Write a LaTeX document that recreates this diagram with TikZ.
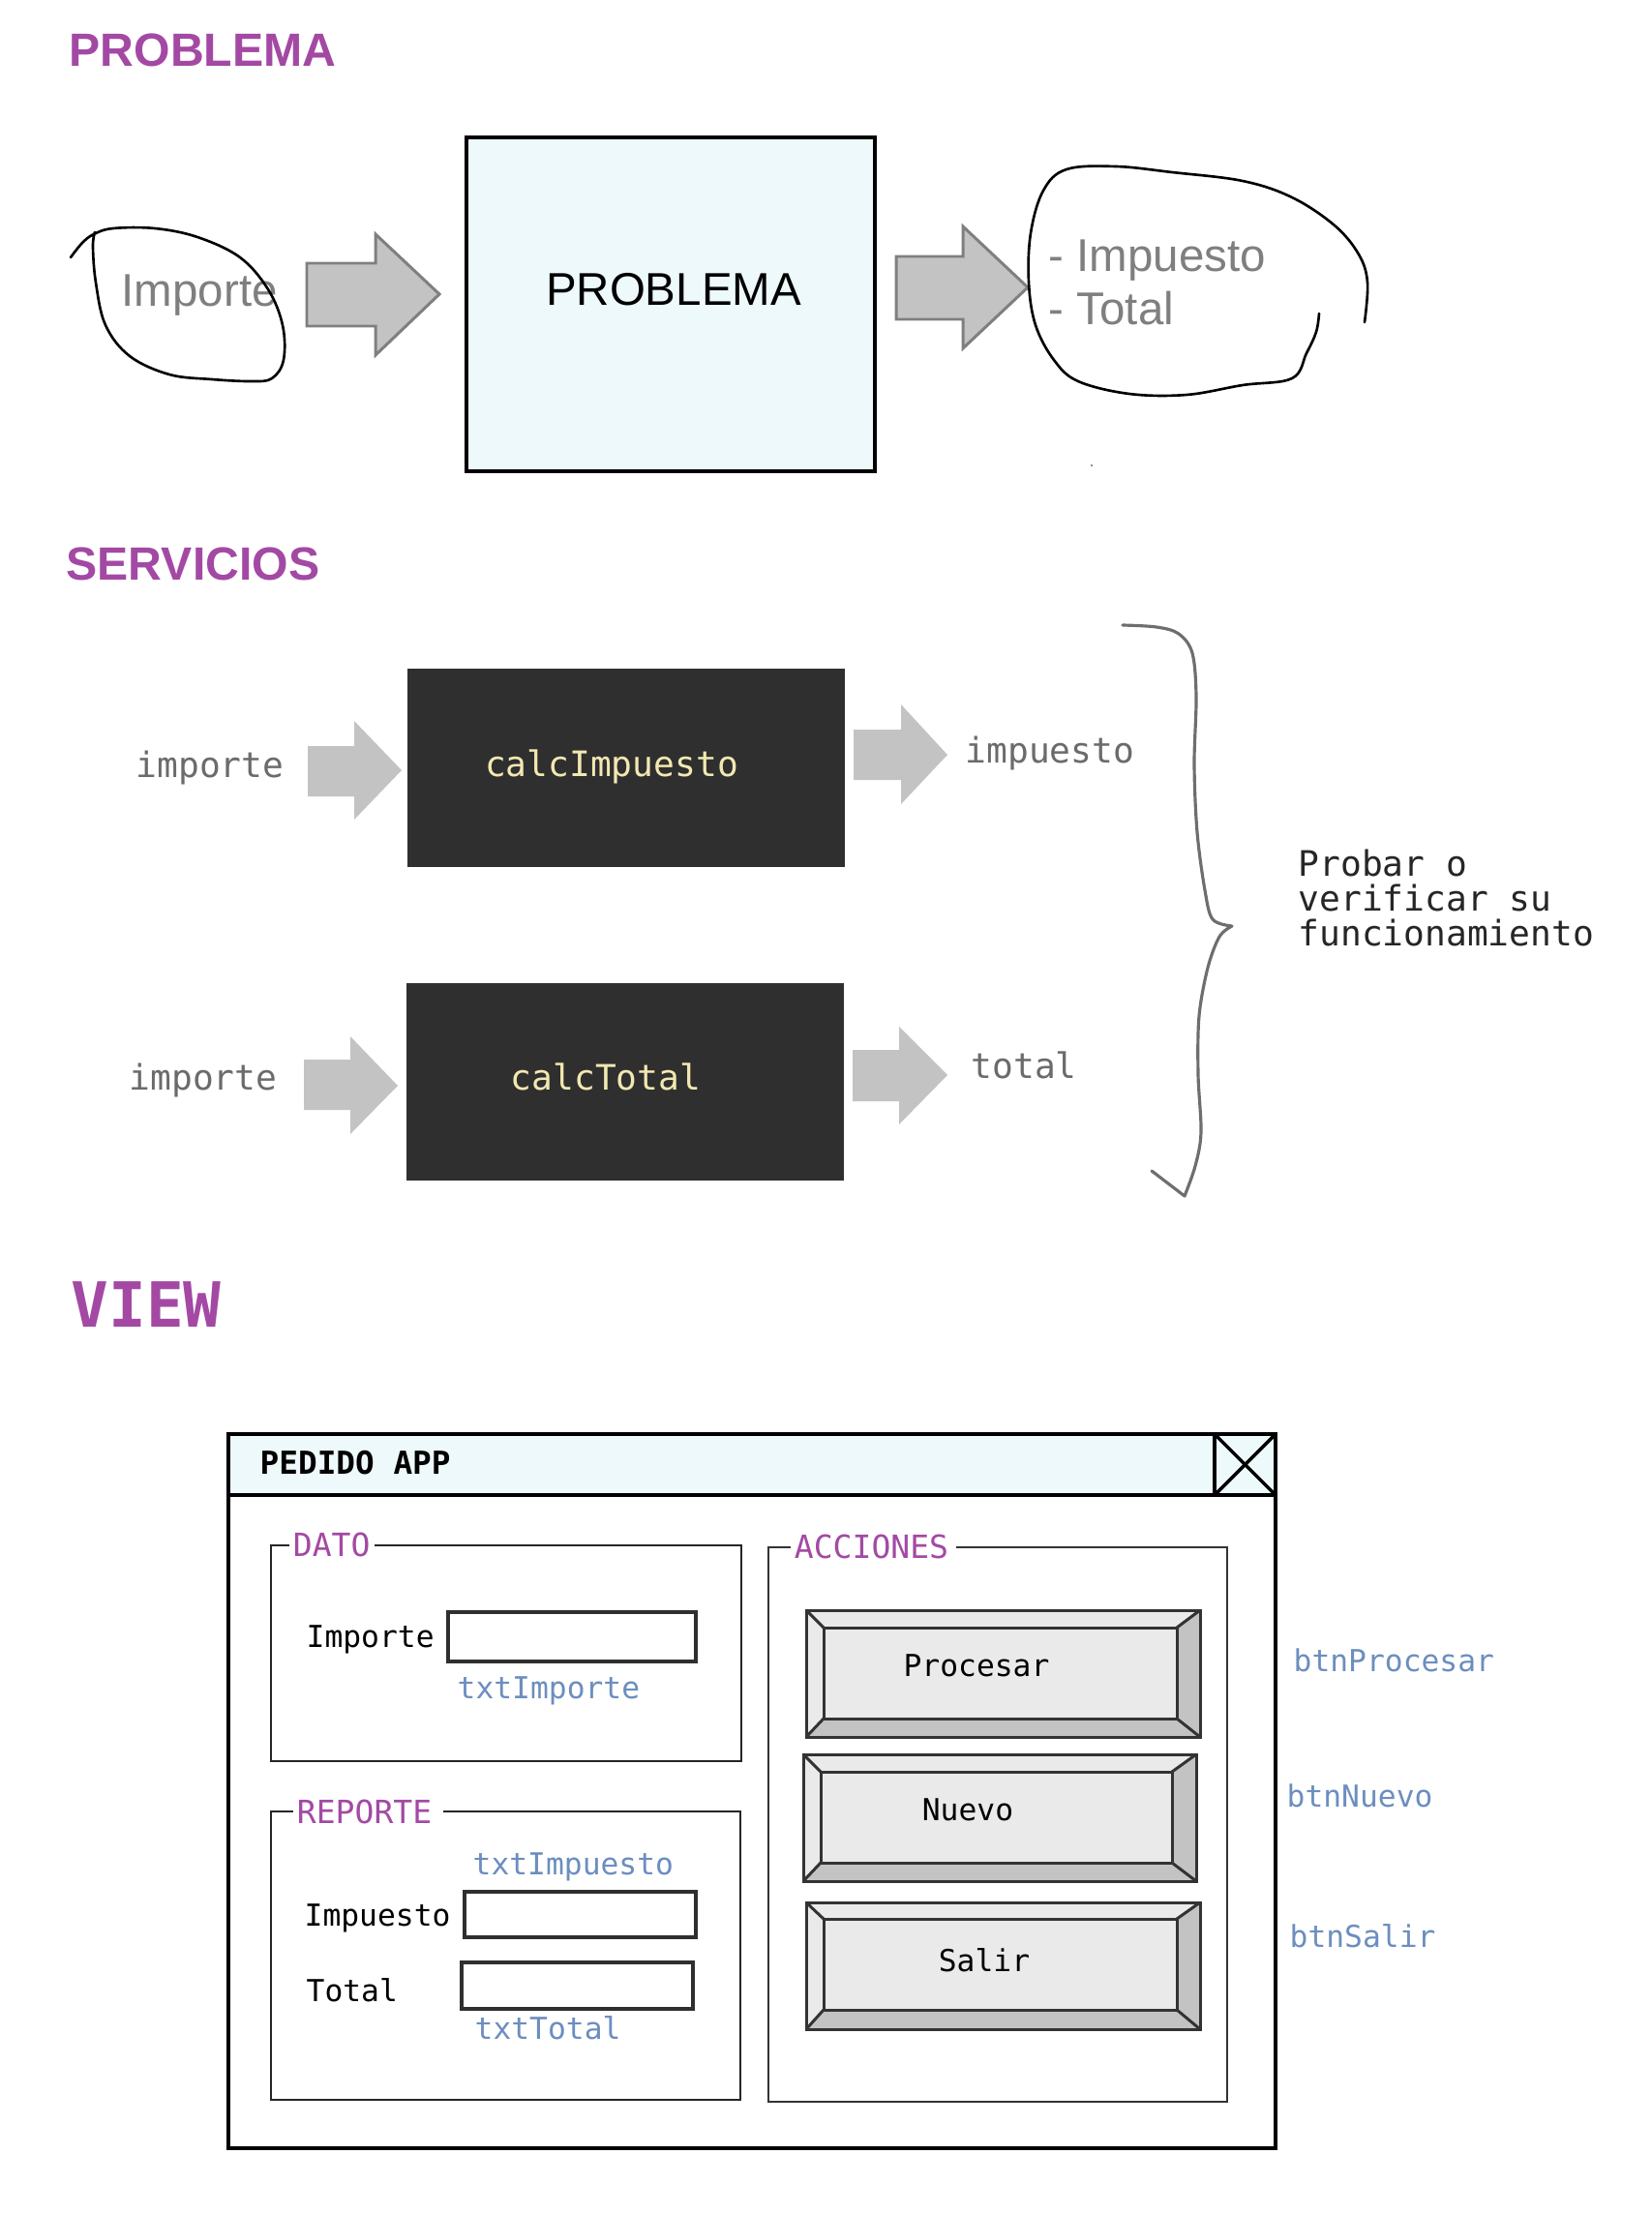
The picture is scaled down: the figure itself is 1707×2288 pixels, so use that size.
\documentclass[tikz,border=0pt]{standalone}
\usepackage{fontspec}
\setmainfont{Liberation Sans}
\newfontfamily\monofont{DejaVu Sans Mono}
\definecolor{purp}{HTML}{A349A4}
\definecolor{lcyan}{HTML}{EEF9FB}
\definecolor{agray}{HTML}{C3C3C3}
\definecolor{adark}{HTML}{7F7F7F}
\definecolor{darkbox}{HTML}{2F2F2F}
\definecolor{ylw}{HTML}{F2E8B2}
\definecolor{mgray}{HTML}{6B6B6B}
\definecolor{lblue}{HTML}{6C8EBF}
\definecolor{blight}{HTML}{EAEAEA}
\definecolor{bline}{HTML}{333333}
\definecolor{brace}{HTML}{6E6E6E}
\newcommand\bevelbtn[8]{%
  \fill[blight] (#1,#2) rectangle (#3,#4);
  \fill[agray] (#1,#4) -- (#3,#4) -- (#7,#8) -- (#5,#8) -- cycle;
  \fill[agray] (#3,#2) -- (#3,#4) -- (#7,#8) -- (#7,#6) -- cycle;
  \draw[btnline] (#1,#2) rectangle (#3,#4);
  \draw[btnline] (#5,#6) rectangle (#7,#8);
  \draw[btnline] (#1,#2) -- (#5,#6) (#3,#2) -- (#7,#6) (#3,#4) -- (#7,#8) (#1,#4) -- (#5,#8);
}
\tikzset{
  ttl/.style={font=\fontsize{13.7}{16}\selectfont\bfseries, text=purp, inner sep=0pt, anchor=base west},
  sanstxt/.style={font=\fontsize{13.5}{16}\selectfont, inner sep=0pt},
  monoA/.style={font=\monofont\fontsize{10.3}{12}\selectfont, inner sep=0pt},
  monoB/.style={font=\monofont\fontsize{8.9}{10.5}\selectfont, inner sep=0pt, anchor=base west},
  grplbl/.style={font=\monofont\fontsize{9.4}{11}\selectfont, text=purp, fill=white, inner xsep=1.2pt, inner ysep=0pt, anchor=west},
  barrow/.style={fill=agray, draw=adark, line width=0.85pt, line join=miter},
  sarrow/.style={fill=agray},
  hand/.style={line width=0.75pt, black, line cap=round, line join=round},
  grp/.style={line width=0.72pt, draw=black!85},
  field/.style={line width=0.95pt, draw=darkbox, fill=white},
  btnline/.style={line width=0.85pt, draw=bline},
  winline/.style={line width=1pt, draw=black},
}
\begin{document}
\begin{tikzpicture}[x=0.01cm, y=-0.01cm]
\useasboundingbox (0,0) rectangle (1707,2288);

% ---------- PROBLEMA ----------
\node[ttl] (t1) at (71,69) {PROBLEMA};
\draw[line width=1.28pt, fill=lcyan] (482,142) rectangle (904,487);
\node[sanstxt, anchor=base] (prob) at (696,315) {PROBLEMA};

\draw[barrow] (317,272) -- (388,272) -- (388,242) -- (454,304) -- (388,367) -- (388,337) -- (317,337) -- cycle;
\draw[barrow] (926,265) -- (995,265) -- (995,234) -- (1062,297) -- (995,360) -- (995,330) -- (926,330) -- cycle;

\node[sanstxt, text=adark, anchor=base west] (imp0) at (125,317) {Importe};
\node[sanstxt, text=adark, anchor=base west] (out1) at (1083,280) {- Impuesto};
\node[sanstxt, text=adark, anchor=base west] (out2) at (1083,335) {- Total};

\draw[hand] plot[smooth, tension=0.6] coordinates {(73,266) (85,251) (97,242) (117,236) (160,236) (204,245) (248,266) (277,299) (292,336) (293,372) (281,391) (260,394) (219,392) (175,387) (134,368) (109,336) (99,292) (96,255) (98,240)};
\draw[hand] plot[smooth, tension=0.6] coordinates {(1410,333) (1413,292) (1404,263) (1379,233) (1335,204) (1284,187) (1211,178) (1153,172) (1102,175) (1078,197) (1065,241) (1063,292) (1070,336) (1089,372) (1114,394) (1167,407) (1226,408) (1284,398) (1335,391) (1350,365) (1360,343) (1363,324)};
\fill[black!60] (1128,481) circle (1.2);

% ---------- SERVICIOS ----------
\node[ttl] (t2) at (68,599) {SERVICIOS};
\fill[darkbox] (421,691) rectangle (873,896);
\fill[darkbox] (420,1016) rectangle (872,1220);
\node[monoA, text=ylw, anchor=base] (s1) at (632,802) {calcImpuesto};
\node[monoA, text=ylw, anchor=base] (s2) at (626,1126) {calcTotal};

\fill[sarrow] (318,771) -- (366,771) -- (366,745) -- (415,796) -- (366,847) -- (366,823) -- (318,823) -- cycle;
\fill[sarrow] (882,754) -- (931,754) -- (931,728) -- (979,780) -- (931,831) -- (931,806) -- (882,806) -- cycle;
\fill[sarrow] (314,1095) -- (362,1095) -- (362,1071) -- (411,1122) -- (362,1172) -- (362,1147) -- (314,1147) -- cycle;
\fill[sarrow] (881,1085) -- (929,1085) -- (929,1061) -- (979,1111) -- (929,1162) -- (929,1138) -- (881,1138) -- cycle;

\node[monoA, text=mgray, anchor=base west] (in1) at (140,803) {importe};
\node[monoA, text=mgray, anchor=base west] (o1) at (997,788) {impuesto};
\node[monoA, text=mgray, anchor=base west] (in2) at (133,1126) {importe};
\node[monoA, text=mgray, anchor=base west] (o2) at (1003,1114) {total};

\draw[line width=0.9pt, draw=brace, line cap=round, line join=round] plot[smooth, tension=0.55] coordinates {(1160,646) (1195,648) (1218,655) (1232,675) (1236,720) (1234,790) (1237,860) (1245,920) (1253,950) (1273,957)}
  plot[smooth, tension=0.55] coordinates {(1273,957) (1260,968) (1248,1000) (1239,1050) (1238,1110) (1241,1170) (1235,1205) (1224,1236)} -- (1190,1210);

\node[monoA, text=black!85, anchor=base west] (p1) at (1341,905) {Probar o};
\node[monoA, text=black!85, anchor=base west] (p2) at (1341,941) {verificar su};
\node[monoA, text=black!85, anchor=base west] (p3) at (1341,977) {funcionamiento};

% ---------- VIEW ----------
\node[font=\monofont\bfseries\fontsize{18.3}{20}\selectfont, text=purp, inner sep=0pt, anchor=base west] (t3) at (73,1371) {VIEW};

\fill[white] (236,1482) rectangle (1318,2220);
\fill[lcyan] (236,1482) rectangle (1318,1545);
\draw[winline] (236,1482) rectangle (1318,2220);
\draw[winline] (236,1545) -- (1318,1545);
\draw[winline] (1255,1482) rectangle (1318,1545);
\draw[winline] (1255,1482) -- (1318,1545) (1318,1482) -- (1255,1545);
\node[font=\monofont\bfseries\fontsize{9.3}{11}\selectfont, inner sep=0pt, anchor=base west] (ttlbar) at (268,1523) {PEDIDO APP};

% groups
\draw[grp] (280,1597) rectangle (766,1820);
\node[grplbl] (g1) at (298,1596) {DATO};
\draw[grp] (280,1872) rectangle (765,2170);
\node[grplbl] (g2) at (302,1872) {REPORTE};
\node[fill=white, minimum width=0.12cm, minimum height=0.1cm, inner sep=0pt] at (452,1872) {};
\draw[grp, draw=bline] (794,1599) rectangle (1268,2172);
\node[grplbl] (g3) at (816,1598) {ACCIONES};
\node[fill=white, minimum width=0.05cm, minimum height=0.1cm, inner sep=0pt] at (985,1599) {};

% DATO content
\node[monoB] (l1) at (316,1702) {Importe};
\draw[field] (463,1666) rectangle (719,1717);
\node[monoB, text=lblue] (n1) at (472,1755) {txtImporte};

% REPORTE content
\node[monoB, text=lblue] (n2) at (488,1937) {txtImpuesto};
\node[monoB] (l2) at (314,1990) {Impuesto};
\draw[field] (480,1955) rectangle (719,2002);
\node[monoB] (l3) at (316,2068) {Total};
\draw[field] (477,2028) rectangle (716,2076);
\node[monoB, text=lblue] (n3) at (490,2107) {txtTotal};

% buttons
\bevelbtn{833}{1664}{1240}{1795}{851}{1682}{1216}{1776}
\bevelbtn{830}{1813}{1236}{1944}{848}{1831}{1211}{1925}
\bevelbtn{833}{1966}{1240}{2097}{851}{1983}{1216}{2077}
\node[monoB, anchor=base] (b1) at (1009,1732) {Procesar};
\node[monoB, anchor=base] (b2) at (1000,1881) {Nuevo};
\node[monoB, anchor=base] (b3) at (1017,2037) {Salir};

\node[monoB, text=lblue] (bn1) at (1336,1727) {btnProcesar};
\node[monoB, text=lblue] (bn2) at (1329,1867) {btnNuevo};
\node[monoB, text=lblue] (bn3) at (1332,2012) {btnSalir};
\end{tikzpicture}
\end{document}
